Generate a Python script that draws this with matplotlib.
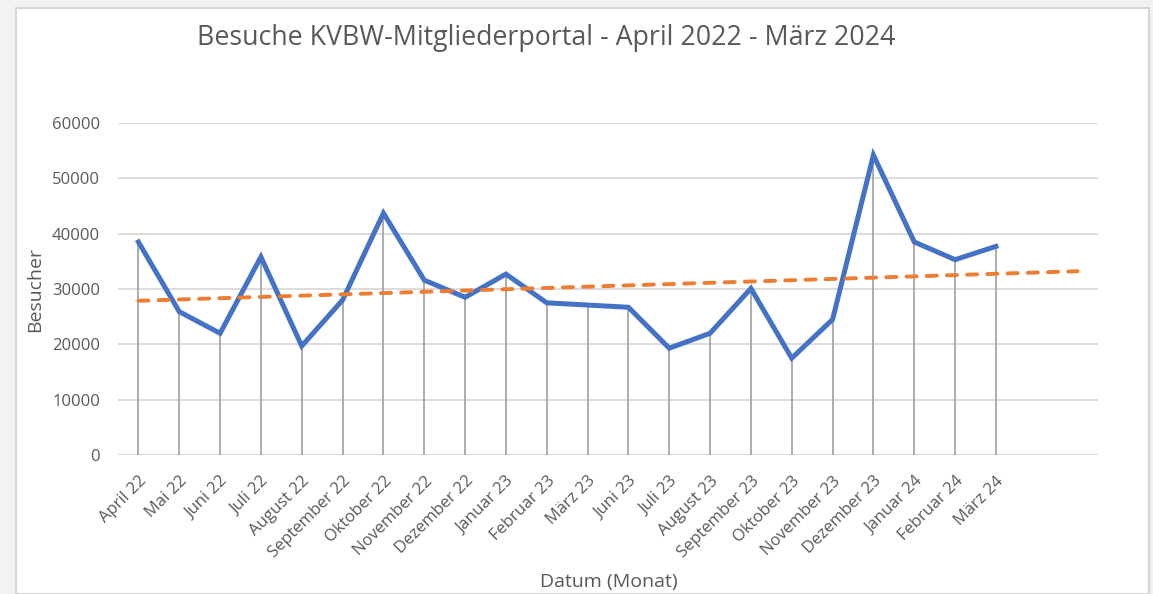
import numpy as np
import matplotlib
matplotlib.use("Agg")
import matplotlib.pyplot as plt
from matplotlib.patches import Rectangle

categories = ["April 22", "Mai 22", "Juni 22", "Juli 22", "August 22", "September 22",
              "Oktober 22", "November 22", "Dezember 22", "Januar 23", "Februar 23",
              "März 23", "Juni 23", "Juli 23", "August 23", "September 23", "Oktober 23",
              "November 23", "Dezember 23", "Januar 24", "Februar 24", "März 24"]
besucher = [38500, 25900, 22000, 35800, 19700, 28000, 43700, 31600, 28500, 32700, 27500,
            27100, 26700, 19300, 22000, 30100, 17500, 24500, 54200, 38500, 35300, 37700]
y_ticks = [0, 10000, 20000, 30000, 40000, 50000, 60000]
forecast_periods = 2

title = "Besuche KVBW-Mitgliederportal - April 2022 - März 2024"
xlabel = "Datum (Monat)"
ylabel = "Besucher"

plt.rcParams['font.family'] = ['Open Sans', 'DejaVu Sans']

W, H = 1153, 594
fig = plt.figure(figsize=(W / 100, H / 100), dpi=100, facecolor='#f2f2f2')
fig.patches.append(Rectangle((16 / W, 0), (1149 - 16) / W, 1 - 8 / H, transform=fig.transFigure,
                             facecolor='white', edgecolor='#d6d6d6', linewidth=1.5, zorder=-5))

ax = fig.add_axes([118 / W, 1 - 455 / H, (1098 - 118) / W, (455 - 123) / H])
ax.set_facecolor('none')
ax.set_zorder(2)

n = len(categories)
x = np.arange(n)
vals = np.array(besucher, dtype=float)

# Drop lines
ax.vlines(x, 0, vals, colors='#a6a6a6', linewidth=1.3, zorder=2)

# Main line
ax.plot(x, vals, color='#4472c4', linewidth=3.6, solid_joinstyle='miter', zorder=4)

# Linear trend line (Excel-style, forecast forward)
coef = np.polyfit(x, vals, 1)
xt = np.array([0, n - 1 + forecast_periods], dtype=float)
ax.plot(xt, np.polyval(coef, xt), color='#ed7d31', linewidth=2.8,
        dashes=(2.6, 2.6), dash_capstyle='round', zorder=5)

ax.set_xlim(-0.5, n - 0.5 + forecast_periods)
ax.set_ylim(0, 60000)
ax.set_yticks(y_ticks)
ax.set_yticklabels([str(v) for v in y_ticks])
ax.grid(axis='y', color='#d9d9d9', linewidth=1.3, zorder=1)
ax.set_axisbelow(True)
for s in ax.spines.values():
    s.set_visible(False)
ax.axhline(0, color='#d9d9d9', linewidth=1.5, zorder=1)

ax.set_xticks(x)
ax.set_xticklabels(categories, rotation=45, ha='right', va='top', rotation_mode='anchor')
ax.tick_params(axis='both', length=0, colors='#595959', labelsize=12)
ax.tick_params(axis='x', pad=13)
ax.tick_params(axis='y', pad=13)

fig.text(197 / W, 1 - 38 / H, title, fontsize=19.3, color='#595959', ha='left', va='center')
fig.text(609 / W, 1 - 582 / H, xlabel, fontsize=14, color='#595959', ha='center', va='center')
fig.text(35 / W, 1 - 290 / H, ylabel, fontsize=14, color='#595959', ha='center', va='center',
         rotation=90)

fig.savefig('out.png', dpi=100, facecolor=fig.get_facecolor())
